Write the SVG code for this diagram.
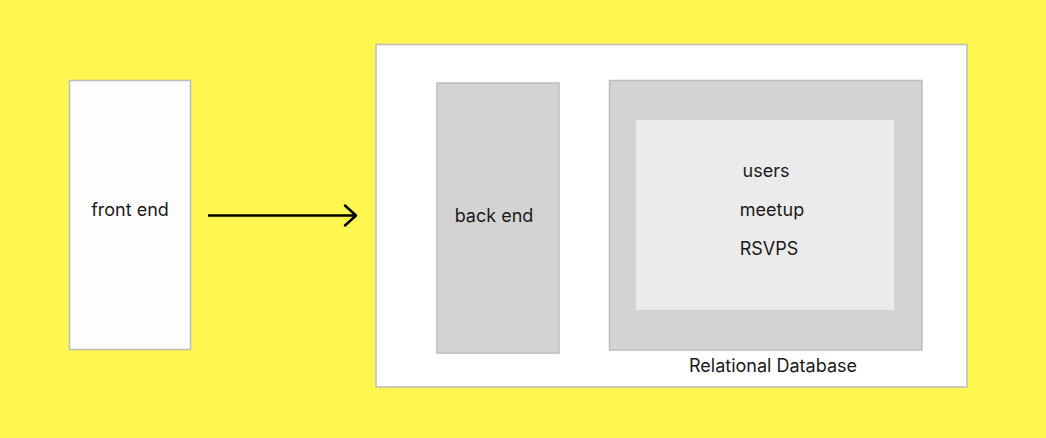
<svg xmlns="http://www.w3.org/2000/svg" width="1046" height="438" viewBox="0 0 1046 438">
<style>
text{font-family:Inter,"Noto Sans","Liberation Sans",sans-serif;font-size:18px;fill:#1a1a1a;text-anchor:middle}
.box{stroke:#bdbdbd;stroke-width:1.5}
</style>
<rect x="0" y="0" width="1046" height="438" fill="#fff64f"/>
<g id="front-end">
<rect class="box" x="69.5" y="80.5" width="121" height="269" fill="#fdfdfd"/>
<text x="130" y="216">front end</text>
</g>
<g id="server">
<rect class="box" x="376" y="44.5" width="591" height="342.5" fill="#ffffff"/>
</g>
<g id="back-end">
<rect class="box" x="437" y="83" width="122" height="270" fill="#d3d3d3"/>
<text x="494" y="222">back end</text>
</g>
<g id="relational-database">
<rect class="box" x="609.5" y="80.5" width="312.5" height="269.5" fill="#d3d3d3"/>
<rect x="636" y="120" width="258" height="190" fill="#ebebeb"/>
<text x="766" y="177">users</text>
<text x="772" y="216">meetup</text>
<text x="769" y="255">RSVPS</text>
<text x="773" y="372">Relational Database</text>
</g>
<g id="connectors">
<line x1="208" y1="215.5" x2="356" y2="215.5" stroke="#000" stroke-width="2.5"/>
<polyline points="345,205.5 356,215.5 345,225.5" fill="none" stroke="#000" stroke-width="2.5" stroke-linecap="round" stroke-linejoin="round"/>
</g>
</svg>
